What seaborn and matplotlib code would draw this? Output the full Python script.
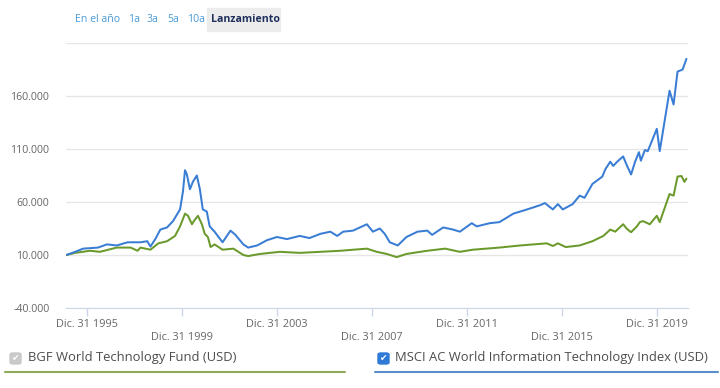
import pandas as pd
import matplotlib.pyplot as plt
import matplotlib.patches as mpatches
import seaborn as sns

# values (growth of 10.000 USD)
fund_dates = [
    "1995-02-15", "1995-07-01", "1996-02-15", "1996-07-15", "1997-04-01", "1997-11-01",
    "1998-02-15", "1998-04-01", "1998-09-01", "1999-01-01", "1999-05-15", "1999-09-15",
    "1999-12-01", "2000-02-15", "2000-04-01", "2000-06-01", "2000-07-01", "2000-09-01",
    "2000-11-01", "2000-12-15", "2001-02-01", "2001-03-15", "2001-05-15", "2001-09-15",
    "2002-03-01", "2002-08-01", "2002-10-15", "2003-04-15", "2004-02-15", "2004-12-15",
    "2005-11-01", "2006-09-01", "2007-10-15", "2008-03-15", "2008-08-15", "2009-01-15",
    "2009-06-15", "2010-05-01", "2011-02-01", "2011-09-15", "2012-04-01", "2013-05-15",
    "2014-04-01", "2015-05-15", "2015-08-15", "2015-11-01", "2016-03-01", "2016-10-01",
    "2017-04-15", "2017-10-01", "2018-01-15", "2018-04-01", "2018-08-01", "2018-10-01",
    "2018-12-01", "2019-03-01", "2019-04-15", "2019-06-01", "2019-09-15", "2020-01-01",
    "2020-02-15", "2020-07-15", "2020-09-15", "2020-11-15", "2021-01-15", "2021-03-01",
    "2021-04-01",
]
fund_values = [
    10000, 12000, 14000, 13000, 17000, 17000,
    14000, 17000, 15000, 21000, 23000, 28000,
    37000, 49000, 47000, 39000, 42000, 47000,
    39000, 30000, 27000, 17500, 20000, 15000,
    16000, 10000, 9000, 11000, 13000, 12000,
    13000, 14000, 16000, 13000, 11000, 8000,
    11000, 14000, 16000, 13000, 15000, 17000,
    19000, 21000, 18500, 21000, 17500, 19000,
    23000, 28000, 34000, 32000, 39000, 34500,
    31500, 37000, 41000, 42000, 39000, 47000,
    41000, 67500, 66000, 84000, 84500, 79000,
    82000,
]

index_dates = [
    "1995-02-15", "1995-07-01", "1995-11-01", "1996-06-15", "1996-11-01", "1997-04-01",
    "1997-09-15", "1998-04-01", "1998-07-15", "1998-09-01", "1998-11-15", "1999-02-01",
    "1999-05-15", "1999-08-15", "1999-12-01", "2000-01-15", "2000-02-15", "2000-03-15",
    "2000-05-01", "2000-06-15", "2000-08-15", "2000-10-01", "2000-11-15", "2001-01-15",
    "2001-03-01", "2001-05-15", "2001-09-15", "2002-01-15", "2002-04-01", "2002-08-01",
    "2002-10-15", "2003-03-01", "2003-08-01", "2004-01-01", "2004-06-01", "2004-12-15",
    "2005-05-15", "2005-11-01", "2006-04-01", "2006-07-15", "2006-10-15", "2007-03-15",
    "2007-10-15", "2008-01-15", "2008-05-01", "2008-07-15", "2008-10-01", "2009-02-01",
    "2009-06-15", "2009-12-01", "2010-05-01", "2010-07-15", "2011-01-01", "2011-06-01",
    "2011-09-15", "2012-03-15", "2012-06-01", "2012-12-15", "2013-05-15", "2013-12-15",
    "2014-07-15", "2015-02-01", "2015-04-15", "2015-08-15", "2015-11-01", "2016-01-15",
    "2016-06-15", "2016-10-01", "2016-12-15", "2017-04-15", "2017-09-15", "2017-11-01",
    "2018-01-15", "2018-03-01", "2018-05-01", "2018-08-01", "2018-10-01", "2018-12-01",
    "2019-02-01", "2019-04-01", "2019-05-01", "2019-07-01", "2019-08-15", "2020-01-01",
    "2020-02-15", "2020-07-15", "2020-09-15", "2020-11-15", "2021-02-01", "2021-04-01",
]
index_values = [
    10000, 13000, 16000, 17000, 20000, 19000,
    22000, 22000, 23000, 18000, 25000, 34000,
    36000, 42000, 53000, 70000, 90000, 86000,
    72000, 79000, 85000, 72000, 53000, 51000,
    37000, 32000, 22000, 33000, 29000, 20000,
    17000, 19000, 24000, 27000, 25000, 28000,
    26000, 30000, 32000, 28000, 32000, 33000,
    39000, 32000, 35000, 30000, 22000, 19000,
    27000, 32000, 33000, 29000, 36000, 34000,
    32000, 40000, 37000, 40000, 41000, 49000,
    53000, 57000, 59000, 53000, 58000, 53000,
    58000, 66000, 64000, 77000, 84000, 91000,
    98000, 94000, 98000, 103000, 94000, 86000,
    98000, 107000, 99000, 109000, 108000, 129000,
    108000, 165000, 152000, 183000, 185000, 195000,
]

fund_name = "BGF World Technology Fund (USD)"
index_name = "MSCI AC World Information Technology Index (USD)"
tick_years = [1995, 1999, 2003, 2007, 2011, 2015, 2019]
y_ticks = [-40000, 10000, 60000, 110000, 160000, 210000]
buttons = ["En el año", "1a", "3a", "5a", "10a"]

green = "#6b9a2c"
blue = "#3a7dd4"

df = pd.concat([
    pd.DataFrame({"Fecha": pd.to_datetime(fund_dates), "Valor": fund_values, "Serie": fund_name}),
    pd.DataFrame({"Fecha": pd.to_datetime(index_dates), "Valor": index_values, "Serie": index_name}),
])

sns.set_style("white")
plt.rcParams["font.family"] = ["Open Sans", "DejaVu Sans"]

fig = plt.figure(figsize=(7.2, 3.88), dpi=100)
ax = fig.add_axes([66 / 720, 1 - 308 / 388, (688 - 66) / 720, (308 - 43) / 388])

sns.lineplot(data=df, x="Fecha", y="Valor", hue="Serie",
             hue_order=[fund_name, index_name],
             palette={fund_name: green, index_name: blue},
             linewidth=1.45, legend=False, ax=ax)

ax.set_xlim(pd.Timestamp("1995-02-10"), pd.Timestamp("2021-04-25"))
ax.set_ylim(-40000, 210000)
ax.set_xlabel("")
ax.set_ylabel("")

ax.set_yticks(y_ticks)
ax.set_yticklabels([f"{v:,.0f}".replace(",", ".") if v < 200000 else "" for v in y_ticks])
ax.grid(axis="y", color="#e6e6e6", linewidth=1)
ax.grid(axis="x", visible=False)

ax.set_xticks([pd.Timestamp(f"{y}-12-31") for y in tick_years])
ax.set_xticklabels([("" if i % 2 == 0 else "\n") + f"Dic. 31 {y}"
                    for i, y in enumerate(tick_years)])

ax.tick_params(axis="y", length=0, pad=12, labelsize=7.6, labelcolor="#666666")
ax.tick_params(axis="x", length=6, width=1, color="#ccd6eb", pad=2,
               labelsize=7.8, labelcolor="#666666", bottom=True)
for side in ["top", "right", "left"]:
    ax.spines[side].set_visible(False)
ax.spines["bottom"].set_color("#ccd6eb")

# period buttons at the top
xs = [75, 128, 147, 167, 187]
for label, x in zip(buttons, xs):
    fig.text(x / 720, 1 - 19 / 388, label, fontsize=7.6, color="#4a9ad6", va="center")
fig.patches.append(mpatches.Rectangle((207 / 720, 1 - 31 / 388), 73 / 720, 23 / 388,
                                      transform=fig.transFigure, color="#ececec", zorder=0))
fig.text(211 / 720, 1 - 19 / 388, "Lanzamiento", fontsize=7.6, color="#1e2f5c",
         weight="bold", va="center")

# legend with check boxes and underlines
legend = [(10, 28, 5, 345, "#c9c9c9", fund_name, "#8fa85c"),
          (378, 395, 375, 718, "#2f7ad6", index_name, "#5b8dcb")]
for bx, tx, lx0, lx1, box_color, name, line_color in legend:
    fig.patches.append(mpatches.FancyBboxPatch((bx / 720, 1 - 364 / 388), 11 / 720, 11 / 388,
                                               boxstyle="round,pad=0,rounding_size=0.004",
                                               transform=fig.transFigure, color=box_color))
    fig.text((bx + 5.5) / 720, 1 - 358.5 / 388, "✔", fontsize=6.5, color="white",
             ha="center", va="center", family="DejaVu Sans")
    fig.text(tx / 720, 1 - 358 / 388, name, fontsize=9.4, color="#4d4d4d", va="center")
    fig.add_artist(plt.Line2D([lx0 / 720, lx1 / 720], [1 - 372 / 388, 1 - 372 / 388],
                              transform=fig.transFigure, color=line_color, linewidth=1.5))

fig.savefig("out.png", dpi=100)
